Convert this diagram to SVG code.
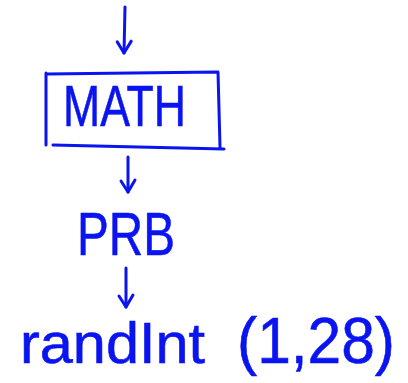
<svg xmlns="http://www.w3.org/2000/svg" width="408" height="383" viewBox="0 0 408 383">
<style>
.ink{fill:none;stroke:#0a14f0;stroke-width:3;stroke-linecap:round;stroke-linejoin:round}
.lbl{font-family:"Liberation Sans",Arial,sans-serif;fill:#0a14f0;stroke:#0a14f0;stroke-width:0.6}
</style>
<defs>
<marker id="head" markerUnits="userSpaceOnUse" markerWidth="20" markerHeight="20" refX="0" refY="0" viewBox="-14 -10 20 20" orient="auto" overflow="visible">
<path d="M-12,-7 L0,0 L-11,7" fill="none" stroke="#0a14f0" stroke-width="3" stroke-linecap="round" stroke-linejoin="round"/>
</marker>
</defs>
<rect width="408" height="383" fill="#fff"/>
<g id="connectors">
<path class="ink" d="M125,7 L124,53" marker-end="url(#head)"/>
<path class="ink" d="M128,157 L128,192" marker-end="url(#head)"/>
<path class="ink" d="M126,268 L126,307" marker-end="url(#head)"/>
</g>
<g id="math">
<path class="ink" d="M47,74 L218,72 L220,147 M53,145 L224,149 M46,73 L46,145"/>
<text class="lbl" x="63" y="126" font-size="58" textLength="123" lengthAdjust="spacingAndGlyphs">MATH</text>
</g>
<g id="prb">
<text class="lbl" x="77" y="255" font-size="62" textLength="98" lengthAdjust="spacingAndGlyphs">PRB</text>
</g>
<g id="randint">
<text class="lbl" y="363" font-size="58"><tspan x="20" textLength="185" lengthAdjust="spacingAndGlyphs">randInt</tspan> <tspan x="237" font-size="64" textLength="158" lengthAdjust="spacingAndGlyphs">(1,28)</tspan></text>
</g>
</svg>
